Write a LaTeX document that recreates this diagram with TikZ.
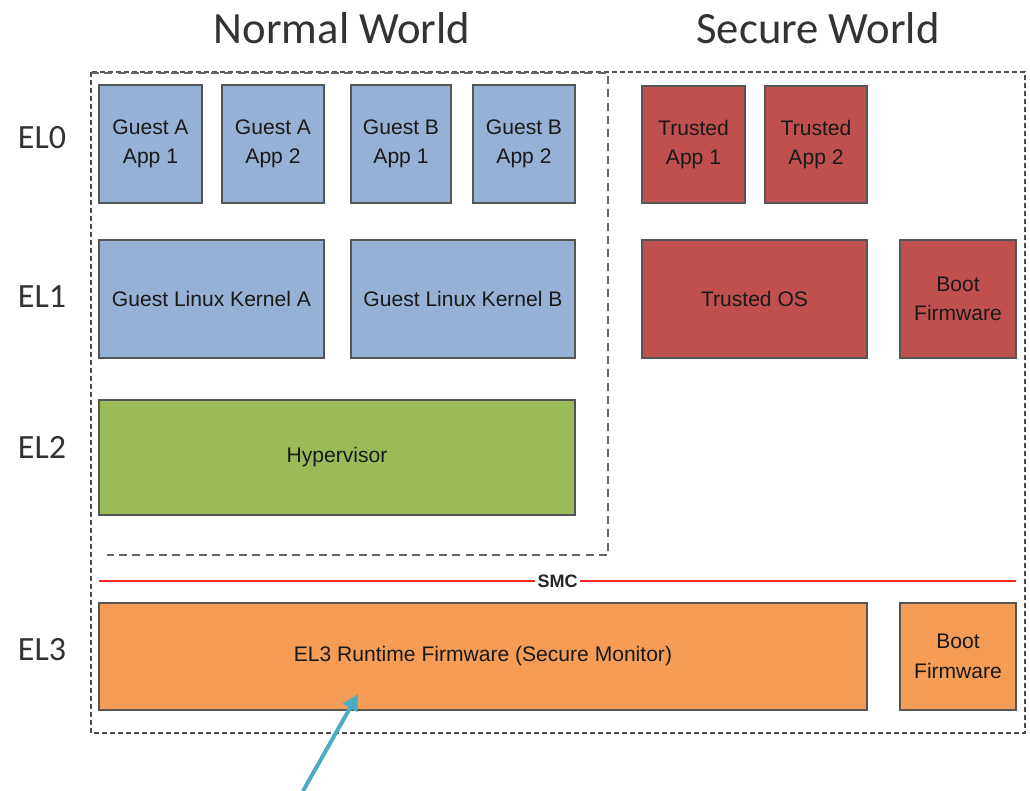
\documentclass[tikz,border=0pt]{standalone}
\usepackage{fontspec}
\setmainfont{Liberation Sans}
\newfontfamily\titlefont{Carlito}
\usetikzlibrary{fit,arrows.meta}
\definecolor{nwblue}{HTML}{95B1D5}
\definecolor{swred}{HTML}{C0504D}
\definecolor{hypgreen}{HTML}{9BBB59}
\definecolor{fworange}{HTML}{F59D56}
\definecolor{edgegray}{HTML}{555555}
\definecolor{smcred}{HTML}{FF2424}
\definecolor{pointer}{HTML}{4BACC6}
\tikzset{
  layerbox/.style={draw=edgegray, line width=0.9pt, inner sep=0pt},
  appbox/.style={layerbox, fill=nwblue},
  tabox/.style={layerbox, fill=swred},
  hypbox/.style={layerbox, fill=hypgreen},
  fwbox/.style={layerbox, fill=fworange},
  boxtext/.style={align=center, text=black!90, font=\fontsize{15.8}{22}\selectfont},
  world/.style={font=\titlefont\fontsize{33.5}{36}\selectfont, text=black!80},
  level/.style={font=\titlefont\fontsize{25.5}{28}\selectfont, text=black!80},
  outerframe/.style={draw=black!70, line width=1.1pt, dash pattern=on 3.5pt off 2.5pt},
  worldframe/.style={draw=black!60, line width=1.9pt, dash pattern=on 6pt off 4pt},
  smcline/.style={draw=smcred, line width=1.6pt},
  pointerarrow/.style={draw=pointer, line width=3pt, -{Triangle[length=12pt,width=12pt]}}
}
\begin{document}
\begin{tikzpicture}[x=0.75pt, y=-0.75pt]
\useasboundingbox (0,0) rectangle (1030,791);

% frames: whole system, and the normal-world region inside it
\draw[outerframe] (91,72) rectangle (1025,733);
\draw[worldframe] (91,73) -- (608,73) -- (608,555) -- (107,555);

% world titles
\node[world] (nwtitle) at (342,28) {Normal World};
\node[world] (swtitle) at (818,28) {Secure World};

% exception levels
\node[level] (el0) at (42,138) {EL0};
\node[level] (el1) at (42,297) {EL1};
\node[level] (el2) at (42,447) {EL2};
\node[level] (el3) at (42,650) {EL3};

% EL0: applications
\node[appbox, fit={(99,85) (202,203)}] (gaa1) {};
\node[boxtext] at (gaa1.center) {Guest A\\App 1};
\node[appbox, fit={(222,85) (324,203)}] (gaa2) {};
\node[boxtext] at (gaa2.center) {Guest A\\App 2};
\node[appbox, fit={(351,85) (451,203)}] (gba1) {};
\node[boxtext] at (gba1.center) {Guest B\\App 1};
\node[appbox, fit={(473,85) (575,203)}] (gba2) {};
\node[boxtext] at (gba2.center) {Guest B\\App 2};
\node[tabox, fit={(642,86) (745,203)}] (ta1) {};
\node[boxtext] at (ta1.center) {Trusted\\App 1};
\node[tabox, fit={(765,86) (867,203)}] (ta2) {};
\node[boxtext] at (ta2.center) {Trusted\\App 2};

% EL1: kernels
\node[appbox, fit={(99,240) (324,358)}] (gka) {};
\node[boxtext] at (gka.center) {Guest Linux Kernel A};
\node[appbox, fit={(351,240) (575,358)}] (gkb) {};
\node[boxtext] at (gkb.center) {Guest Linux Kernel B};
\node[tabox, fit={(642,240) (867,358)}] (tos) {};
\node[boxtext] at (tos.center) {Trusted OS};
\node[tabox, fit={(900,240) (1016,358)}] (bfs) {};
\node[boxtext] at (bfs.center) {Boot\\Firmware};

% EL2: hypervisor
\node[hypbox, fit={(99,400) (575,515)}] (hyp) {};
\node[boxtext] at (hyp.center) {Hypervisor};

% secure monitor call boundary
\coordinate (smcL) at (99,581);
\coordinate (smcR) at (1016,581);
\draw[smcline] (smcL) -- (smcR)
  node[midway, fill=white, inner sep=2pt, font=\bfseries\fontsize{13.5}{15}\selectfont, text=black!85] (smc) {SMC};

% EL3: firmware
\node[fwbox, fit={(99,603) (867,710)}] (mon) {};
\node[boxtext] at (mon.center) {EL3 Runtime Firmware (Secure Monitor)};
\node[fwbox, fit={(900,603) (1016,710)}] (bf3) {};
\node[boxtext] at (bf3.center) {Boot\\Firmware};

% pointer to the secure monitor
\coordinate (tail) at (303,791);
\coordinate (aim) at (358,694);
\draw[pointerarrow] (tail) -- (aim);
\end{tikzpicture}
\end{document}
